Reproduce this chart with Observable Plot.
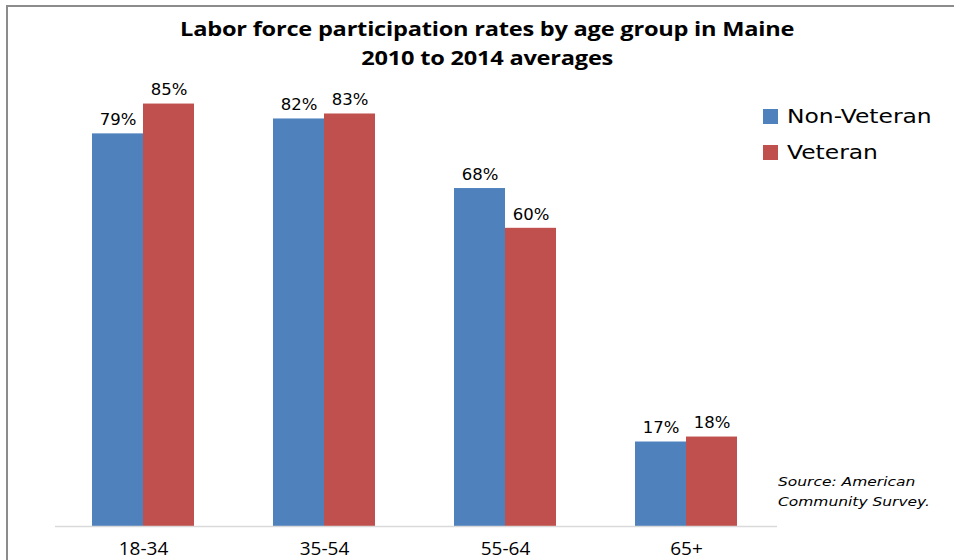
<!DOCTYPE html>
<html><head><meta charset="utf-8">
<script src="https://cdn.jsdelivr.net/npm/d3@7"></script>
<script src="https://cdn.jsdelivr.net/npm/@observablehq/plot@0.6"></script>
<style>
body{margin:0;background:#fff;}
#wrap{position:relative;width:954px;height:560px;overflow:hidden;}
#frame{position:absolute;left:6px;top:5px;width:960px;height:600px;border:2px solid #8c8c8c;box-sizing:border-box;}
#title{position:absolute;left:0;top:14px;width:974px;text-align:center;font-family:"Open Sans",sans-serif;font-weight:700;font-size:20px;line-height:29px;color:#000;letter-spacing:-0.2px;transform:scaleX(1.18);transform-origin:486px 0;}
#legend{position:absolute;left:763px;top:98px;font-family:"DejaVu Sans",sans-serif;font-size:20px;color:#000;}
.li{display:flex;align-items:center;height:36px;}
.sw{width:15px;height:15px;margin-right:9px;}
.lt{display:inline-block;transform:scaleX(1.17);transform-origin:0 50%;}
#source{position:absolute;left:778px;top:472px;font-family:"DejaVu Sans",sans-serif;font-style:italic;font-size:13px;line-height:20px;color:#000;transform:scaleX(1.19);transform-origin:0 0;}
#chart{position:absolute;left:0;top:0;}
</style></head>
<body>
<div id="wrap">
<div id="frame"></div>
<div id="chart"></div>
<div id="title">Labor force participation rates by age group in Maine<br>2010 to 2014 averages</div>
<div id="legend"></div>
<div id="source">Source: American<br>Community Survey.</div>
</div>
<script>
const ageGroups = ["18-34", "35-54", "55-64", "65+"];
const seriesNames = ["Non-Veteran", "Veteran"];
const nonVeteran = [79, 82, 68, 17];
const veteran = [85, 83, 60, 18];
const colors = ["#4F81BD", "#C0504D"];

const data = [];
ageGroups.forEach((g, i) => {
  data.push({age: g, series: seriesNames[0], value: nonVeteran[i]});
  data.push({age: g, series: seriesNames[1], value: veteran[i]});
});

const plot = Plot.plot({
  width: 954,
  height: 560,
  marginTop: 29,
  marginBottom: 34,
  marginLeft: 53,
  marginRight: 177,
  style: {background: "transparent", overflow: "visible"},
  fx: {domain: ageGroups, paddingInner: 0.436, paddingOuter: 0.218, label: null},
  x: {domain: seriesNames, padding: 0, axis: null},
  y: {domain: [0, 100], axis: null},
  color: {domain: seriesNames, range: colors},
  marks: [
    Plot.barY(data, {fx: "age", x: "series", y: "value", fill: "series"}),
    Plot.text(data, {fx: "age", x: "series", y: "value", text: d => d.value + "%", dy: -14,
      fontFamily: "DejaVu Sans", fontSize: 16.5, fill: "#000"}),
    Plot.axisFx({anchor: "bottom", tickSize: 0, tickPadding: 15, fontSize: 19, fontFamily: "Open Sans", label: null, color: "#000"}),
  ]
});
document.getElementById("chart").appendChild(plot);

// baseline at y = 0 from the Plot scale
const yb = plot.scale("y").apply(0);
d3.select(plot).append("line")
  .attr("x1", 55).attr("x2", 954 - 177).attr("y1", yb + 0.5).attr("y2", yb + 0.5)
  .attr("stroke", "#d9d9d9").attr("stroke-width", 1.5);

const leg = document.getElementById("legend");
seriesNames.forEach((s, i) => {
  const row = document.createElement("div"); row.className = "li";
  const sw = document.createElement("div"); sw.className = "sw"; sw.style.background = colors[i];
  const t = document.createElement("span"); t.className = "lt"; t.textContent = s;
  row.appendChild(sw); row.appendChild(t); leg.appendChild(row);
});
</script>
</body></html>
